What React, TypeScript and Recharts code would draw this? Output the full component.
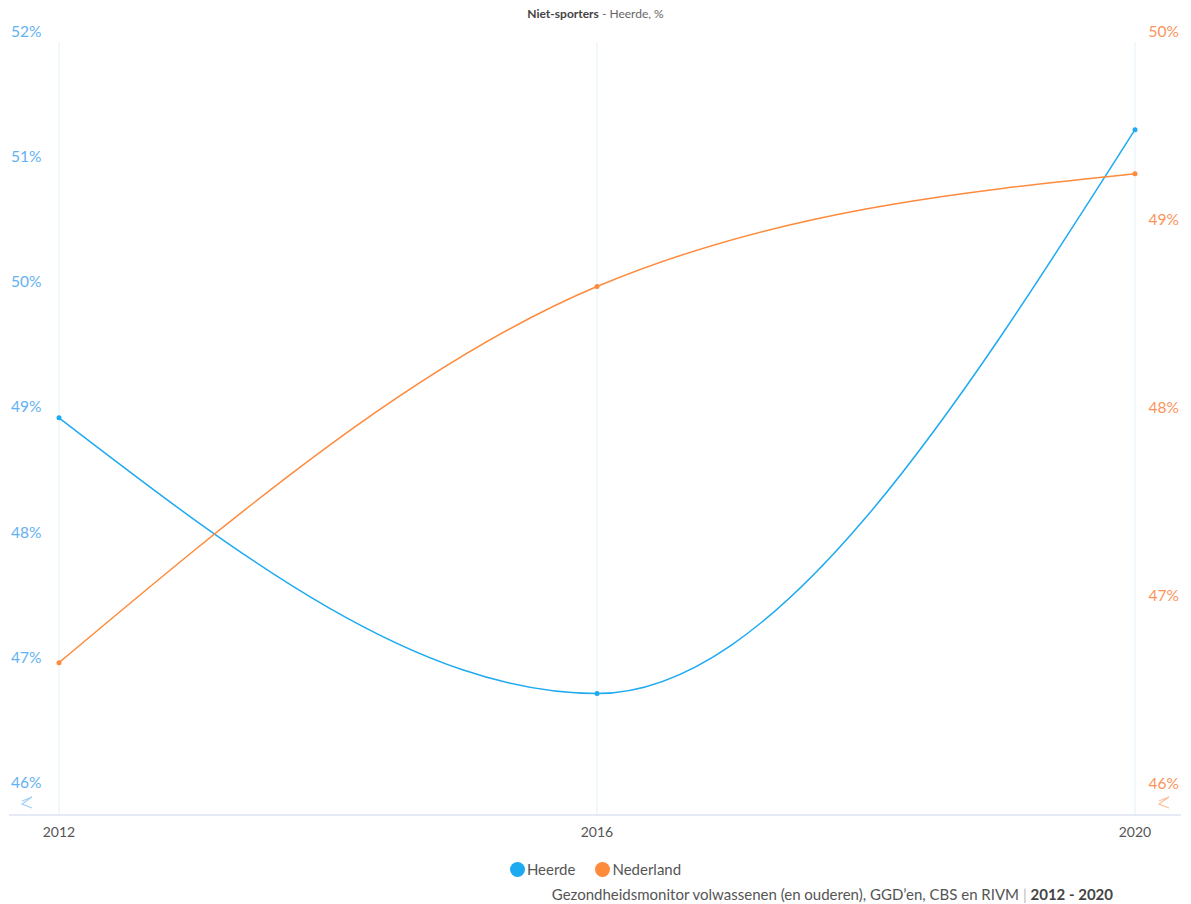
import React from "react";
import {
  LineChart,
  Line,
  XAxis,
  YAxis,
  ReferenceLine,
} from "recharts";

const YEARS = [2012, 2016, 2020];
const HEERDE = [49.0, 46.8, 51.3];
const NEDERLAND = [46.7, 48.7, 49.3];
const LEFT_TICKS = [46, 47, 48, 49, 50, 51, 52];
const RIGHT_TICKS = [46, 47, 48, 49, 50];

const BLUE = "#1eaaf1";
const ORANGE = "#fe8a3c";
const BLUE_LABEL = "#62b1f3";
const ORANGE_LABEL = "#fb9359";
const FONT = "'Source Sans Pro', Lato, 'Open Sans', sans-serif";

const chartData = YEARS.map((year, i) => ({
  year,
  heerde: HEERDE[i],
  nederland: NEDERLAND[i],
}));

function makeTick(color: string, anchor: "start" | "end") {
  return (props: any) => {
    const { x, y, payload } = props;
    return (
      <text
        x={x}
        y={y - 11}
        dy="0.355em"
        textAnchor={anchor}
        fill={color}
        fontSize={15.5}
        fontFamily={FONT}
      >
        {payload.value}%
      </text>
    );
  };
}

// small axis-break squiggle near the bottom of each y axis
function makeBreak(color: string, side: "left" | "right") {
  return (props: any) => {
    const vb = props.viewBox || {};
    const bx = side === "left" ? vb.x + 18 : vb.x + vb.width - 17;
    const by = vb.y + vb.height - 12;
    return (
      <path
        d={`M${bx - 5} ${by - 2} L${bx + 5} ${by - 6} L${bx - 5} ${by + 1} L${bx + 5} ${by + 5}`}
        stroke={color}
        strokeWidth={1.2}
        fill="none"
        opacity={0.6}
      />
    );
  };
}

export default function App() {
  return (
    <div style={{ position: "relative", width: 1191, height: 904, fontFamily: FONT }}>
      <style>{"body{margin:0}"}</style>
      <div
        style={{
          position: "absolute",
          top: 6,
          left: 0,
          width: 1191,
          textAlign: "center",
          fontSize: 12,
          color: "#666",
        }}
      >
        <b style={{ color: "#444" }}>Niet-sporters</b> - Heerde, %
      </div>
      <LineChart
        width={1191}
        height={850}
        data={chartData}
        margin={{ top: 42, right: 10, left: 9, bottom: 0 }}
      >
        <XAxis
          dataKey="year"
          type="number"
          domain={[2012, 2020]}
          ticks={YEARS}
          padding={{ left: 50, right: 46 }}
          height={35}
          tickLine={false}
          axisLine={{ stroke: "#ccd6eb" }}
          tick={{ fill: "#555", fontSize: 14, fontFamily: FONT }}
          tickMargin={6}
        />
        <YAxis
          yAxisId="left"
          orientation="left"
          width={1}
          mirror
          domain={[45.83, 52]}
          ticks={LEFT_TICKS}
          interval={0}
          tickLine={false}
          tickSize={0}
          tickMargin={2}
          axisLine={false}
          tick={makeTick(BLUE_LABEL, "start")}
          label={{ content: makeBreak(BLUE_LABEL, "left") }}
          allowDataOverflow
        />
        <YAxis
          yAxisId="right"
          orientation="right"
          width={1}
          mirror
          domain={[45.89, 50]}
          ticks={RIGHT_TICKS}
          interval={0}
          tickLine={false}
          tickSize={0}
          tickMargin={2}
          axisLine={false}
          tick={makeTick(ORANGE_LABEL, "end")}
          label={{ content: makeBreak(ORANGE_LABEL, "right") }}
          allowDataOverflow
        />
        {YEARS.map((yr) => (
          <ReferenceLine key={yr} x={yr} yAxisId="left" stroke="#e3f2fa" />
        ))}
        <Line
          yAxisId="left"
          type="monotone"
          dataKey="heerde"
          stroke={BLUE}
          strokeWidth={1.5}
          dot={{ r: 2.5, fill: BLUE, stroke: "none" }}
          isAnimationActive={false}
        />
        <Line
          yAxisId="right"
          type="monotone"
          dataKey="nederland"
          stroke={ORANGE}
          strokeWidth={1.5}
          dot={{ r: 2.5, fill: ORANGE, stroke: "none" }}
          isAnimationActive={false}
        />
      </LineChart>
      <div
        style={{
          position: "absolute",
          top: 860,
          left: 0,
          width: 1191,
          display: "flex",
          justifyContent: "center",
          gap: 20,
          fontSize: 15,
          color: "#555",
        }}
      >
        {[
          { name: "Heerde", color: BLUE },
          { name: "Nederland", color: ORANGE },
        ].map((s) => (
          <span key={s.name} style={{ display: "flex", alignItems: "center", gap: 2 }}>
            <span
              style={{
                display: "inline-block",
                width: 15,
                height: 15,
                borderRadius: "50%",
                background: s.color,
              }}
            />
            {s.name}
          </span>
        ))}
      </div>
      <div
        style={{
          position: "absolute",
          top: 885,
          right: 78,
          fontSize: 15,
          color: "#555",
          whiteSpace: "nowrap",
        }}
      >
        Gezondheidsmonitor volwassenen (en ouderen), GGD’en, CBS en RIVM{" "}
        <span style={{ color: "#bbb" }}>|</span> <b style={{ color: "#444" }}>2012 - 2020</b>
      </div>
    </div>
  );
}
